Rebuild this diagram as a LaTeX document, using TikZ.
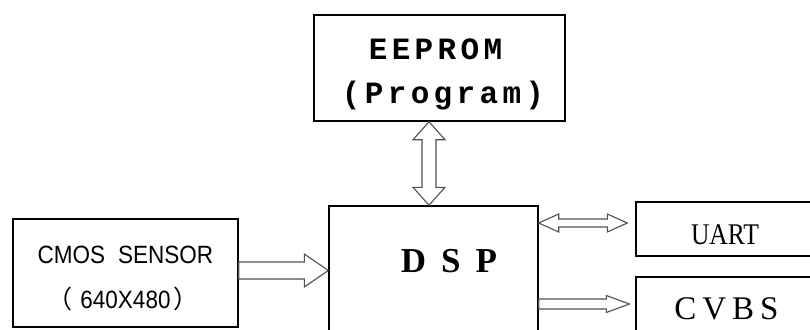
\documentclass[tikz,border=0pt]{standalone}
\usepackage{fontspec}
\setmainfont{Liberation Serif}
\newfontfamily\promfont[LetterSpace=14]{Liberation Mono}
\newfontfamily\dspfont[LetterSpace=43]{Liberation Serif}
\newfontfamily\sensorfont[FakeStretch=0.9]{Liberation Sans}
\newfontfamily\uartfont[FakeStretch=0.85]{Liberation Serif}
\newfontfamily\cjk{Noto Sans CJK SC}
\newfontfamily\cvbsfont[LetterSpace=18]{Liberation Serif}
\usetikzlibrary{calc}
\definecolor{arrowgray}{RGB}{80, 80, 80}

% hollow block arrows: from, to, shaft half width, head half width, head length
\newcommand{\singlearrow}[5]{%
    \coordinate (ta) at (#1);
    \coordinate (tb) at (#2);
    \coordinate (hb) at ($(tb)!#5!(ta)$);
    \draw[blk] ($(ta)!#3!90:(tb)$) -- ($(hb)!#3!90:(tb)$) -- ($(hb)!#4!90:(tb)$) -- (tb)
        -- ($(hb)!#4!-90:(tb)$) -- ($(hb)!#3!-90:(tb)$) -- ($(ta)!#3!-90:(tb)$) -- cycle;}
\newcommand{\doublearrow}[5]{%
    \coordinate (ta) at (#1);
    \coordinate (tb) at (#2);
    \coordinate (ha) at ($(ta)!#5!(tb)$);
    \coordinate (hb) at ($(tb)!#5!(ta)$);
    \draw[blk] (ta) -- ($(ha)!#4!90:(tb)$) -- ($(ha)!#3!90:(tb)$) -- ($(hb)!#3!90:(tb)$)
        -- ($(hb)!#4!90:(tb)$) -- (tb) -- ($(hb)!#4!-90:(tb)$) -- ($(hb)!#3!-90:(tb)$)
        -- ($(ha)!#3!-90:(tb)$) -- ($(ha)!#4!-90:(tb)$) -- cycle;}

\begin{document}
\begin{tikzpicture}[x=1pt, y=-1pt,
        box/.style={draw, line width=1.4pt, inner sep=0pt},
        lbl/.style={inner sep=0pt},
        blk/.style={draw=arrowgray, line width=1.1pt, fill=white, line join=miter}]
    \useasboundingbox (0,0) rectangle (810,329);
    \clip (0,0) rectangle (810,329);

    % blocks
    \node[box, minimum width=251pt, minimum height=106pt] (eeprom) at (439.5,68)  {};
    \node[box, minimum width=209pt, minimum height=154pt] (dsp)    at (433.5,283) {};
    \node[box, minimum width=225pt, minimum height=108pt] (cmos)   at (125.5,273) {};
    \node[box, minimum width=224pt, minimum height=54pt]  (uart)   at (748,229)   {};
    \node[box, minimum width=224pt, minimum height=83pt]  (cvbs)   at (748,318.5) {};

    % texts
    \node[lbl, font={\fontsize{31pt}{33pt}\promfont\bfseries}] (eepromname) at (435.5,49) {EEPROM};
    \node[lbl, font={\fontsize{31pt}{33pt}\promfont\bfseries}] (eepromsub)  at (443,95.5) {(Program)};
    \node[lbl, font={\fontsize{35pt}{37pt}\dspfont\bfseries}]  (dspname)    at (449,261.5) {DSP};
    \node[lbl, font={\fontsize{25pt}{27pt}\sensorfont}]       (cmosname)   at (125.5,254.5) {CMOS\hspace{13pt}SENSOR};
    \node[lbl, font={\fontsize{25pt}{27pt}\sensorfont}]       (cmossub)    at (123,298.5) {{\cjk （}\hspace{8pt}640X480\hspace{3pt}{\cjk ）}};
    \node[lbl, font={\fontsize{30pt}{32pt}\uartfont}]         (uartname)   at (725,235)  {UART};
    \node[lbl, font={\fontsize{33pt}{35pt}\cvbsfont}]         (cvbsname)   at (726.5,309) {CVBS};

    % arrows
    \coordinate (colv) at (429,0);
    \coordinate (rowa) at (0,270.5);
    \coordinate (rowb) at (0,223);
    \coordinate (rowc) at (0,304);
    \coordinate (uin)  at ($(uart.west |- rowb)+(-8,0)$);
    \coordinate (cin)  at ($(cvbs.west |- rowc)+(-6,0)$);
    \doublearrow{eeprom.south -| colv}{dsp.north -| colv}{7pt}{16pt}{18pt}
    \singlearrow{cmos.east |- rowa}{dsp.west |- rowa}{8.5pt}{16.5pt}{24pt}
    \doublearrow{dsp.east |- rowb}{uin}{4pt}{9pt}{20pt}
    \singlearrow{dsp.east |- rowc}{cin}{5pt}{8.5pt}{23pt}
\end{tikzpicture}
\end{document}
